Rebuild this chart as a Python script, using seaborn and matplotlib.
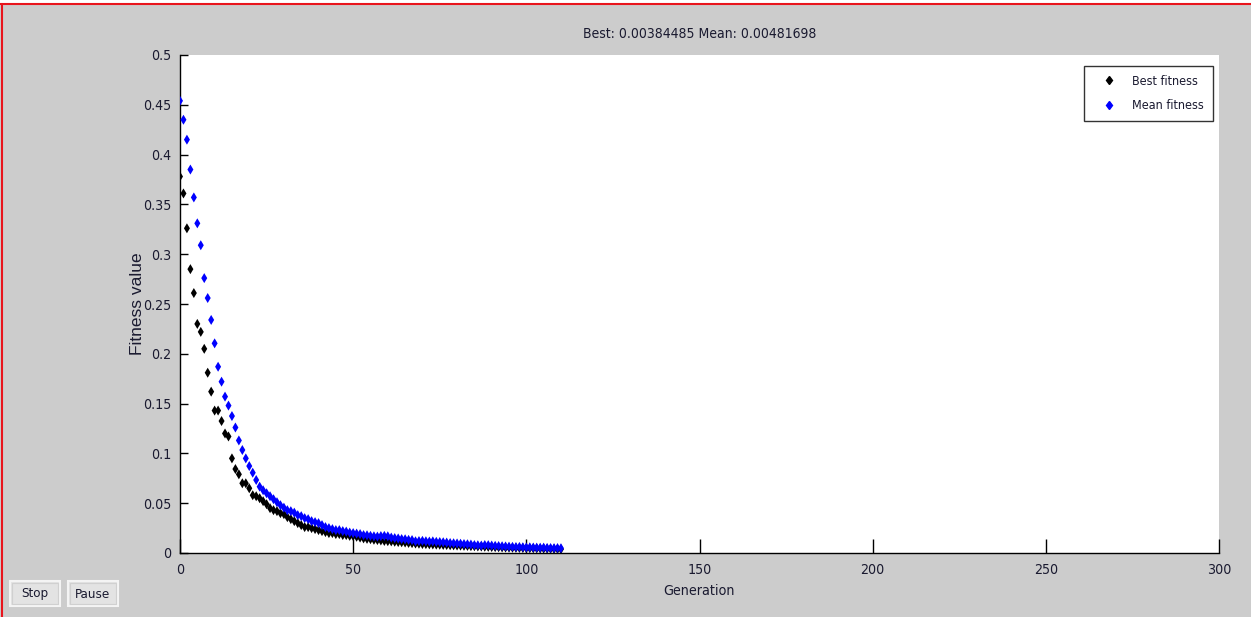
import matplotlib
matplotlib.use("Agg")
import matplotlib.pyplot as plt
import seaborn as sns
import pandas as pd
from matplotlib.patches import Rectangle
from matplotlib.lines import Line2D
from matplotlib import font_manager as fm

title_text = "Best: 0.00384485 Mean: 0.00481698"
x_label = "Generation"
y_label = "Fitness value"
series_names = ["Best fitness", "Mean fitness"]
x_ticks = [0, 50, 100, 150, 200, 250, 300]
y_ticks = [0, 0.05, 0.1, 0.15, 0.2, 0.25, 0.3, 0.35, 0.4, 0.45, 0.5]
y_tick_labels = ["0", "0.05", "0.1", "0.15", "0.2", "0.25", "0.3", "0.35", "0.4", "0.45", "0.5"]

generations = list(range(0, 111))

best_fitness = [
    0.378, 0.361, 0.326, 0.285, 0.261, 0.230, 0.222, 0.205, 0.181, 0.162,
    0.143, 0.143, 0.1325, 0.120, 0.117, 0.095, 0.0843, 0.079, 0.070, 0.070,
    0.065, 0.058, 0.057, 0.055, 0.052, 0.049, 0.045, 0.043, 0.042, 0.040,
    0.039, 0.036, 0.034, 0.032, 0.030, 0.028, 0.026, 0.026, 0.025, 0.024,
    0.023, 0.022, 0.021, 0.020, 0.020, 0.019, 0.019, 0.018, 0.018, 0.0172,
    0.0170, 0.0163, 0.0155, 0.0147, 0.0142, 0.0139, 0.0133, 0.0130, 0.0126, 0.0121,
    0.0119, 0.0117, 0.0113, 0.0110, 0.0108, 0.0105, 0.0101, 0.0099, 0.0095, 0.0093,
    0.0090, 0.0089, 0.0087, 0.0086, 0.0084, 0.0083, 0.0081, 0.0080, 0.0078, 0.0077,
    0.0075, 0.0074, 0.0072, 0.0071, 0.0069, 0.0068, 0.0066, 0.0065, 0.0063, 0.0062,
    0.0060, 0.0059, 0.0058, 0.0056, 0.0055, 0.0054, 0.0053, 0.0052, 0.0051, 0.0050,
    0.0049, 0.0048, 0.0047, 0.0046, 0.0045, 0.0044, 0.0043, 0.0042, 0.0041, 0.0040,
    0.00384485,
]

mean_fitness = [
    0.454, 0.435, 0.415, 0.385, 0.357, 0.331, 0.309, 0.276, 0.256, 0.234,
    0.2105, 0.187, 0.172, 0.157, 0.148, 0.1375, 0.126, 0.113, 0.1034, 0.095,
    0.0873, 0.0806, 0.0733, 0.0666, 0.063, 0.060, 0.057, 0.054, 0.051, 0.048,
    0.0455, 0.043, 0.042, 0.0405, 0.038, 0.037, 0.035, 0.034, 0.032, 0.031,
    0.030, 0.028, 0.026, 0.025, 0.024, 0.023, 0.023, 0.022, 0.0215, 0.0205,
    0.0200, 0.0195, 0.0190, 0.0180, 0.0178, 0.0172, 0.0168, 0.0165, 0.0170, 0.0172,
    0.0168, 0.0155, 0.0150, 0.0146, 0.0140, 0.0138, 0.0132, 0.0130, 0.0118, 0.0120,
    0.0122, 0.0118, 0.0115, 0.0117, 0.0112, 0.0110, 0.0108, 0.0105, 0.0100, 0.0098,
    0.0096, 0.0093, 0.0090, 0.0088, 0.0085, 0.0080, 0.0078, 0.0075, 0.0080, 0.0079,
    0.0075, 0.0072, 0.0070, 0.0068, 0.0066, 0.0064, 0.0062, 0.0060, 0.0061, 0.0058,
    0.0056, 0.0057, 0.0055, 0.0054, 0.0053, 0.0054, 0.0051, 0.0050, 0.0049, 0.0050,
    0.00481698,
]

df = pd.DataFrame({
    "Generation": generations * 2,
    "Fitness": best_fitness + mean_fitness,
    "Series": [series_names[0]] * len(generations) + [series_names[1]] * len(generations),
})

sns.set_style("white")
plt.rcParams["font.family"] = ["Liberation Sans", "DejaVu Sans"]

# look for a condensed / narrow sans face (MATLAB uses a narrow Arial-like face)
narrow_path = None
prefs = ["LiberationSansNarrow-Regular", "DejaVuSansCondensed.ttf", "Condensed-Regular", "Narrow"]
all_fonts = [f.fname for f in fm.fontManager.ttflist]
try:
    import glob
    all_fonts += glob.glob("/usr/share/fonts/**/*.ttf", recursive=True)
    all_fonts += glob.glob("/usr/share/fonts/**/*.otf", recursive=True)
except Exception:
    pass
for p in prefs:
    hits = [f for f in all_fonts if p in f.split("/")[-1] and "Bold" not in f and "Oblique" not in f and "Italic" not in f]
    if hits:
        narrow_path = hits[0]
        break

def fp(size):
    if narrow_path:
        return fm.FontProperties(fname=narrow_path, size=size)
    return fm.FontProperties(family=["Liberation Sans", "DejaVu Sans"], size=size * 0.9)

TXT = "#1a1a30"
BG = "#cccccc"
fig = plt.figure(figsize=(12.51, 6.17), dpi=100, facecolor=BG)
ax = fig.add_axes([180 / 1251, 1 - 553 / 617, (1219 - 180) / 1251, (553 - 55) / 617])
ax.set_facecolor("white")

palette = {series_names[0]: "black", series_names[1]: "blue"}
sns.scatterplot(data=df, x="Generation", y="Fitness", hue="Series", palette=palette,
                marker="d", s=26, linewidth=0, ax=ax, legend=False, zorder=3)

ax.set_xlim(0, 300)
ax.set_ylim(0, 0.5)
ax.set_xticks(x_ticks)
ax.set_xticklabels([str(t) for t in x_ticks])
ax.set_yticks(y_ticks)
ax.set_yticklabels(y_tick_labels)

for s in ["top", "right"]:
    ax.spines[s].set_visible(False)
for s in ["left", "bottom"]:
    ax.spines[s].set_visible(True)
    ax.spines[s].set_color("black")
    ax.spines[s].set_linewidth(1.0)

ax.tick_params(axis="x", direction="in", length=10, width=1, colors="black",
               labelcolor=TXT, pad=7, bottom=True, top=False)
ax.tick_params(axis="y", direction="in", length=6, width=1, colors="black",
               labelcolor=TXT, pad=6, left=True, right=False)
for lab in ax.get_xticklabels() + ax.get_yticklabels():
    lab.set_fontproperties(fp(10.2))

ax.set_xlabel(x_label, fontproperties=fp(10.3), color=TXT, labelpad=5)
ax.set_ylabel(y_label, fontsize=12.5, color=TXT, family=["Liberation Sans", "DejaVu Sans"], labelpad=-1)
ax.set_title(title_text, fontproperties=fp(10), color=TXT, pad=12)

handles = [Line2D([], [], marker="d", color=palette[n], linestyle="none", markersize=4.5) for n in series_names]
leg = ax.legend(handles, series_names, loc="upper right", bbox_to_anchor=(0.9942, 0.978),
                frameon=True, fancybox=False, prop=fp(9), handlelength=2.6, handletextpad=0.6,
                borderpad=0.7, labelspacing=0.9, borderaxespad=0)
leg.get_frame().set_edgecolor("black")
leg.get_frame().set_linewidth(1.0)
for t in leg.get_texts():
    t.set_color(TXT)

# red window border lines
fig.add_artist(Line2D([0, 1], [1 - 3.5 / 617, 1 - 3.5 / 617], color="#e8141c", linewidth=1.5,
                      transform=fig.transFigure))
fig.add_artist(Line2D([1.5 / 1251, 1.5 / 1251], [0, 1 - 3.5 / 617], color="#e8141c", linewidth=1.5,
                      transform=fig.transFigure))
fig.add_artist(Rectangle((0, 1 - 3 / 617), 1, 3 / 617, transform=fig.transFigure,
                         facecolor="white", edgecolor="none", zorder=-1))

# buttons
for label, x0, x1 in [("Stop", 10, 60), ("Pause", 68, 118)]:
    fig.add_artist(Rectangle((x0 / 1251, 1 - 606 / 617), (x1 - x0) / 1251, 25 / 617,
                             transform=fig.transFigure, facecolor="#e3e3e3",
                             edgecolor="#f4f4f4", linewidth=1.5))
    fig.add_artist(Rectangle(((x0 + 2) / 1251, 1 - 604 / 617), (x1 - x0 - 4) / 1251, 21 / 617,
                             transform=fig.transFigure, facecolor="none",
                             edgecolor="#d0d0d0", linewidth=0.8))
    fig.text((x0 + x1) / 2 / 1251, 1 - 594 / 617, label, ha="center", va="center",
             fontproperties=fp(9.5), color=TXT)

fig.savefig("out.png", dpi=100, facecolor=BG)
